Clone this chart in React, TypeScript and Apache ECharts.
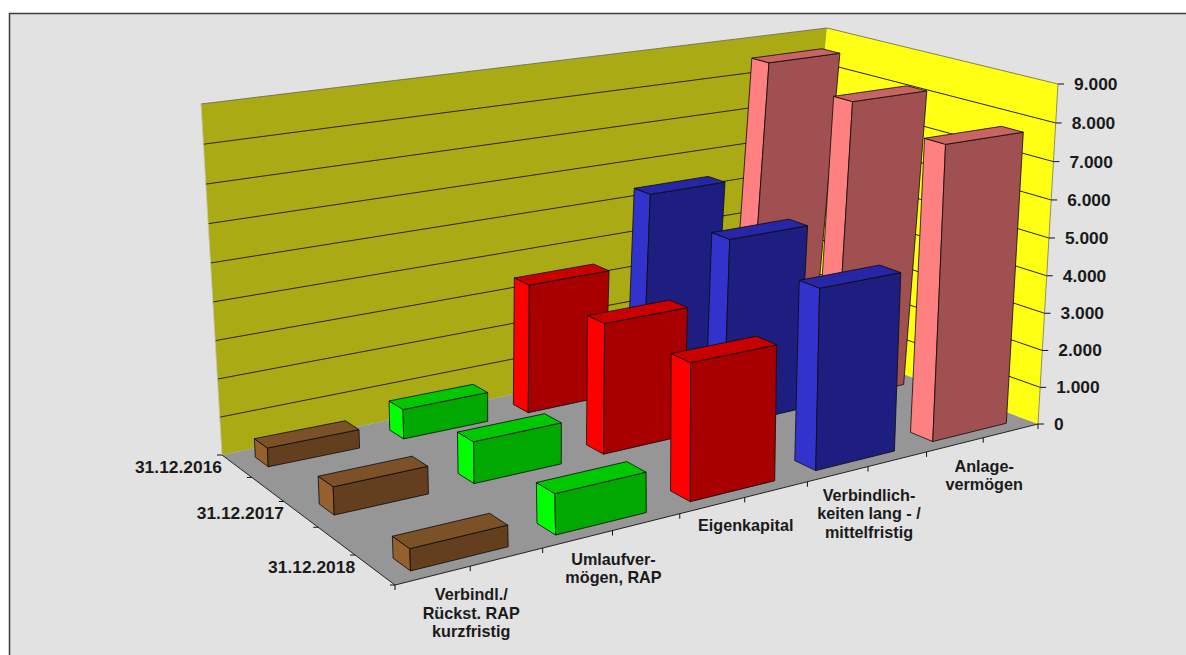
import React, { useEffect, useRef } from "react";
import * as echarts from "echarts";

const categories = ["Verbindl./\nRückst. RAP\nkurzfristig", "Umlaufver-\nmögen, RAP", "Eigenkapital", "Verbindlich-\nkeiten lang - /\nmittelfristig", "Anlage-\nvermögen"];
const dates = ["31.12.2016", "31.12.2017", "31.12.2018"];
const yTicks = [0, 1000, 2000, 3000, 4000, 5000, 6000, 7000, 8000, 9000];
const yTickLabels = ["0", "1.000", "2.000", "3.000", "4.000", "5.000", "6.000", "7.000", "8.000", "9.000"];
// values in date order 2016, 2017, 2018
const kurzfristig = [490, 700, 520];
const umlauf = [790, 1070, 1000];
const eigenkapital = [3500, 3420, 3450];
const langfristig = [5420, 5020, 4660];
const anlage = [8570, 8160, 7750];
const seriesValues = [kurzfristig, umlauf, eigenkapital, langfristig, anlage];
const faceColors = [
  { front: "#643f1f", left: "#96602e", top: "#7c5127" },
  { front: "#00a800", left: "#00ff00", top: "#00c800" },
  { front: "#a80000", left: "#ff0000", top: "#c80000" },
  { front: "#1e1e80", left: "#3232cc", top: "#2626a6" },
  { front: "#a05050", left: "#ff8080", top: "#c86464" },
];

const FONT = "Liberation Sans";
const MAXV = 9000;
type P = [number, number];
// projected corners of the chart box: front-left, front-right, back-right, back-left
const floorQuad: P[] = [[395, 585], [1038, 424], [797, 335], [222, 455]];
const ceilQuad: P[] = [[381, 181], [1058, 84], [827, 28], [201, 104]];
const BOW = 10;

function homography(q: P[]) {
  const [[x0, y0], [x1, y1], [x2, y2], [x3, y3]] = q;
  const dx1 = x1 - x2, dx2 = x3 - x2, sx = x0 - x1 + x2 - x3;
  const dy1 = y1 - y2, dy2 = y3 - y2, sy = y0 - y1 + y2 - y3;
  const den = dx1 * dy2 - dx2 * dy1;
  const g = (sx * dy2 - dx2 * sy) / den;
  const h = (dx1 * sy - sx * dy1) / den;
  const a = x1 - x0 + g * x1, b = x3 - x0 + h * x3;
  const d = y1 - y0 + g * y1, e = y3 - y0 + h * y3;
  return (u: number, v: number): P => {
    const w = g * u + h * v + 1;
    return [(a * u + b * v + x0) / w, (d * u + e * v + y0) / w];
  };
}
const floorH = homography(floorQuad);
const ceilH = homography(ceilQuad);
const Q = 1.035;
// u: 0..5 along categories, v: 0..5 along depth ticks, r: 0..1 of axis height
function pt(u: number, v: number, r: number): P {
  const a = floorH(u / 5, v / 5);
  const b = ceilH(u / 5, v / 5);
  const f = r / (r + (1 - r) * Q);
  const bow = BOW * 4 * (u / 5) * (1 - u / 5) * (v / 5);
  return [a[0] + (b[0] - a[0]) * f + bow, a[1] + (b[1] - a[1]) * f];
}
function ratioOf(api: any, val: number) {
  const y0 = api.coord([0, 0])[1];
  return (y0 - api.coord([0, val])[1]) / (y0 - api.coord([0, MAXV])[1]);
}
const poly = (points: P[], fill: string, stroke = "none", lineWidth = 0) => ({
  type: "polygon",
  shape: { points },
  style: { fill, stroke, lineWidth },
});
const line = (points: P[], stroke: string, lineWidth = 1) => ({
  type: "polyline",
  shape: { points },
  style: { fill: "none", stroke, lineWidth },
});

const U_GAP = [0.17, 0.835];
const V_GAP = [0.25, 0.68];

function renderBar(colors: { front: string; left: string; top: string }) {
  return (_: any, api: any) => {
    const c = api.value(0) as number;
    const r = ratioOf(api, api.value(1) as number);
    const row = api.value(2) as number;
    const vBase = (dates.length - 1 - row) * 2;
    const u0 = c + U_GAP[0], u1 = c + U_GAP[1];
    const v0 = vBase + V_GAP[0], v1 = vBase + V_GAP[1];
    const s = "#0a0a0a";
    return {
      type: "group",
      children: [
        poly([pt(u0, v0, 0), pt(u0, v1, 0), pt(u0, v1, r), pt(u0, v0, r)], colors.left, s, 0.8),
        poly([pt(u0, v0, 0), pt(u1, v0, 0), pt(u1, v0, r), pt(u0, v0, r)], colors.front, s, 0.8),
        poly([pt(u0, v0, r), pt(u1, v0, r), pt(u1, v1, r), pt(u0, v1, r)], colors.top, s, 0.8),
      ],
    };
  };
}

function renderBox(_: any, api: any) {
  const children: any[] = [
    poly([pt(0, 5, 0), pt(5, 5, 0), pt(5, 5, 1), pt(0, 5, 1)], "#aaaa14"),
    poly([pt(5, 5, 0), pt(5, 0, 0), pt(5, 0, 1), pt(5, 5, 1)], "#ffff14"),
    poly([pt(0, 0, 0), pt(5, 0, 0), pt(5, 5, 0), pt(0, 5, 0)], "#969696"),
  ];
  yTicks.forEach((t) => {
    if (t === 0) return;
    const r = ratioOf(api, t);
    children.push(line([pt(0, 5, r), pt(5, 5, r), pt(5, 0, r)], t === MAXV ? "#666650" : "#26260a", t === MAXV ? 0.8 : 1));
  });
  children.push(line([pt(5, 0, 0), pt(5, 0, 1)], "#777760", 0.8));
  children.push(line([pt(0, 5, 0), pt(0, 5, 1)], "#c8c8b4", 0.8));
  children.push(line([pt(0, 5, 0), pt(0, 0, 0), pt(5, 0, 0)], "#222", 1));
  // axis ticks on the floor's edges
  for (let i = 0; i <= 10; i++) {
    const p = pt(i / 2, 0, 0);
    children.push(line([p, [p[0], p[1] + 5]], "#111", 1));
  }
  for (let i = 0; i <= 5; i++) {
    const p = pt(0, i, 0);
    children.push(line([p, [p[0] - 5, p[1]]], "#111", 1));
  }
  return { type: "group", children };
}

function renderYLabel(params: any, api: any) {
  const r = ratioOf(api, api.value(1) as number);
  const p = pt(5, 0, r);
  return {
    type: "group",
    children: [
      line([p, [p[0] + 6, p[1]]], "#111", 1),
      {
        type: "text",
        style: { text: yTickLabels[params.dataIndex], x: p[0] + 16, y: p[1], fontFamily: FONT, fontWeight: "bold", fontSize: 17.4, fill: "#1a1a1a", align: "left", verticalAlign: "middle" },
      },
    ],
  };
}

function renderCatLabel(_: any, api: any) {
  const c = api.value(0) as number;
  const p = pt(c + 0.5, 0, 0);
  return {
    type: "text",
    style: { text: categories[c], x: p[0] + 1, y: p[1] + 18.75, fontFamily: FONT, fontWeight: "bold", fontSize: 16.2, lineHeight: 18.5, fill: "#1a1a1a", align: "center", verticalAlign: "top" },
  };
}

function renderDateLabel(_: any, api: any) {
  const row = api.value(2) as number;
  const p = pt(0, (dates.length - 1 - row) * 2 + 1, 0);
  return {
    type: "text",
    style: { text: dates[row], x: p[0], y: p[1] + 12, fontFamily: FONT, fontWeight: "bold", fontSize: 17.4, fill: "#1a1a1a", align: "right", verticalAlign: "middle" },
  };
}

export default function App() {
  const ref = useRef<HTMLDivElement>(null);
  useEffect(() => {
    const chart = echarts.init(ref.current!, undefined, { renderer: "svg" });
    const barSeries = seriesValues
      .map((vals, c) => ({
        type: "custom",
        silent: true,
        coordinateSystem: "cartesian2d",
        renderItem: renderBar(faceColors[c]),
        encode: { x: 0, y: 1 },
        data: vals.map((v, row) => [c, v, row]),
      }))
      .reverse();
    chart.setOption({
      animation: false,
      backgroundColor: "#ffffff",
      grid: { left: 100, right: 100, top: 84, bottom: 231 },
      xAxis: { type: "category", data: categories, show: false },
      yAxis: { type: "value", min: 0, max: MAXV, interval: 1000, show: false },
      graphic: [
        {
          type: "rect",
          z: -10,
          shape: { x: 9.5, y: 13.5, width: 1300, height: 800 },
          style: { fill: "#e2e2e2", stroke: "#3c3c3c", lineWidth: 1.5 },
        },
      ],
      series: [
        { type: "custom", silent: true, renderItem: renderBox, encode: { x: 0, y: 1 }, data: [[0, 0]] },
        ...barSeries,
        { type: "custom", silent: true, renderItem: renderYLabel, encode: { x: 0, y: 1 }, data: yTicks.map((t) => [0, t]) },
        { type: "custom", silent: true, renderItem: renderCatLabel, encode: { x: 0, y: 1 }, data: categories.map((_, i) => [i, 0]) },
        { type: "custom", silent: true, renderItem: renderDateLabel, encode: { x: 0, y: 1 }, data: dates.map((_, i) => [0, 0, i]) },
      ],
    });
    return () => chart.dispose();
  }, []);
  return <div ref={ref} style={{ position: "fixed", left: 0, top: 0, width: 1186, height: 655 }} />;
}
